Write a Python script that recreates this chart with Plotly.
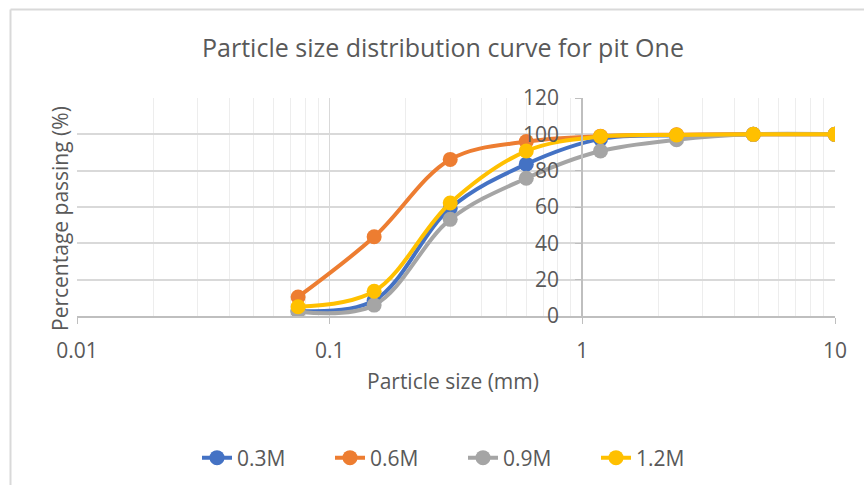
import plotly.graph_objects as go

# Sieve sizes (mm)
sizes = [0.075, 0.15, 0.3, 0.6, 1.18, 2.36, 4.75, 10]
series_names = ["0.3M", "0.6M", "0.9M", "1.2M"]
p_03 = [2.8, 8.5, 59.3, 83.6, 97.5, 99.5, 100, 100]
p_06 = [10.5, 43.6, 86.2, 96.0, 99.0, 99.8, 100, 100]
p_09 = [2.4, 6.0, 53.2, 75.8, 90.8, 97.0, 100, 100]
p_12 = [5.1, 13.6, 62.2, 90.8, 98.8, 99.6, 100, 100]
colors = ["#4472C4", "#ED7D31", "#A5A5A5", "#FFC000"]

FONT = "Open Sans"
TXT = "#595959"

fig = go.Figure()
for name, vals, col in zip(series_names, [p_03, p_06, p_09, p_12], colors):
    fig.add_trace(go.Scatter(
        x=sizes, y=vals, name=name, mode="lines+markers",
        line=dict(color=col, width=4, shape="spline", smoothing=1),
        marker=dict(color=col, size=15),
    ))

L, R, T, B = 77, 29, 98, 169
W, H = 864, 485
pw, ph = W - L - R, H - T - B

def px_x(p):
    return (p - L) / pw

def px_y(p):
    return (H - B - p) / ph

fig.update_layout(
    width=W, height=H,
    margin=dict(l=L, r=R, t=T, b=B, pad=0, autoexpand=False),
    paper_bgcolor="white", plot_bgcolor="white",
    font=dict(family=FONT, size=20, color=TXT),
    title=dict(text="Particle size distribution curve for pit One",
               xref="container", x=443 / W, xanchor="center",
               yref="container", y=1 - 48 / H, yanchor="middle",
               font=dict(family=FONT, size=25, color=TXT)),
    xaxis=dict(type="log", range=[-2, 1], showgrid=True, gridcolor="#D9D9D9", gridwidth=1,
               tickvals=[0.01, 0.1, 1, 10], ticktext=["0.01", "0.1", "1", "10"],
               ticks="outside", ticklen=6, tickcolor="#BFBFBF",
               showline=True, linecolor="#BFBFBF", linewidth=1.5,
               minor=dict(showgrid=True, gridcolor="#EDEDED", gridwidth=1, dtick="D1", ticks=""),
               tickfont=dict(size=21, color=TXT), ticklabelstandoff=9,
               zeroline=False, fixedrange=True, automargin=False),
    yaxis=dict(range=[0, 120], dtick=20, showgrid=True, gridcolor="#D9D9D9", gridwidth=1.5,
               anchor="free", position=px_x(582),
               showline=True, linecolor="#BFBFBF", linewidth=1.5,
               ticks="outside", ticklen=6, tickcolor="#BFBFBF",
               tickfont=dict(size=21, color=TXT), ticklabelstandoff=12,
               zeroline=False, fixedrange=True, automargin=False),
    showlegend=True,
    legend=dict(orientation="h", xref="paper", x=px_x(463), xanchor="center",
                yref="paper", y=px_y(458), yanchor="middle",
                font=dict(family=FONT, size=21, color=TXT),
                entrywidth=88, entrywidthmode="pixels", traceorder="normal"),
    annotations=[
        dict(text="Particle size (mm)", xref="paper", yref="paper",
             x=px_x(453), y=px_y(381), xanchor="center", yanchor="middle",
             showarrow=False, font=dict(family=FONT, size=21, color=TXT)),
        dict(text="Percentage passing (%)", xref="paper", yref="paper",
             x=px_x(60), y=px_y(219), xanchor="center", yanchor="middle",
             textangle=-90, showarrow=False, font=dict(family=FONT, size=21, color=TXT)),
    ],
    shapes=[
        dict(type="line", xref="paper", yref="paper", x0=px_x(10.5), x1=px_x(10.5),
             y0=px_y(9.5), y1=px_y(490), line=dict(color="#D9D9D9", width=2)),
        dict(type="line", xref="paper", yref="paper", x0=px_x(10.5), x1=px_x(870),
             y0=px_y(9.5), y1=px_y(9.5), line=dict(color="#D9D9D9", width=2)),
    ],
)

fig.write_html("out.html")
